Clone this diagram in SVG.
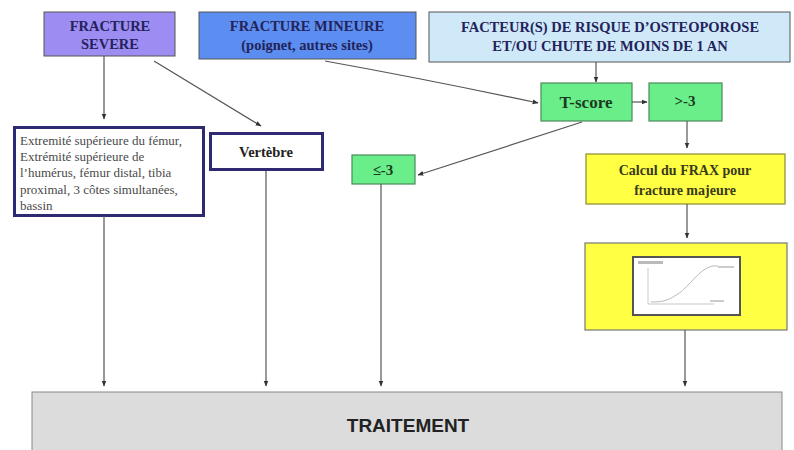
<svg xmlns="http://www.w3.org/2000/svg" width="794" height="450" viewBox="0 0 794 450">
<style>
.hd{font-family:'Liberation Serif','Times New Roman','DejaVu Serif',serif;font-weight:bold;font-size:14.5px;fill:#23235a;text-anchor:middle}
.bx{stroke:#555;stroke-width:1}
.grn{fill:#6aee8a;stroke:#4a8a5a;stroke-width:1.2}
.gt{font-family:'Liberation Serif','Times New Roman','DejaVu Serif',serif;font-weight:bold;fill:#1c3a22;text-anchor:middle}
.ln{stroke:#555;stroke-width:1.2;fill:none}
.ex{font-family:'Liberation Serif','Times New Roman','DejaVu Serif',serif;font-size:13px;fill:#4a4a4a}
</style>
<defs>
<marker id="ah" viewBox="0 0 10 10" refX="9" refY="5" markerWidth="5" markerHeight="5" orient="auto">
<path d="M0,1 L10,5 L0,9 z" fill="#333"/>
</marker>
</defs>
<rect width="794" height="450" fill="#fff"/>

<g id="fracture-severe">
<rect x="44" y="12" width="131" height="44" fill="#9d8cf2" class="bx"/>
<text class="hd" x="110" y="31">FRACTURE</text>
<text class="hd" x="110" y="49">SEVERE</text>
</g>
<g id="fracture-mineure">
<rect x="199" y="12" width="217" height="47" fill="#5b8ef0" class="bx"/>
<text class="hd" x="307" y="31">FRACTURE MINEURE</text>
<text class="hd" x="307" y="50" font-size="13.5">(poignet, autres sites)</text>
</g>
<g id="facteurs">
<rect x="429" y="12" width="361" height="50" fill="#cfe9f9" class="bx"/>
<text class="hd" x="610" y="32">FACTEUR(S) DE RISQUE D’OSTEOPOROSE</text>
<text class="hd" x="610" y="51">ET/OU CHUTE DE MOINS DE 1 AN</text>
</g>
<g id="tscore">
<rect x="541" y="83" width="91" height="38" class="grn"/>
<text class="gt" x="586" y="108" font-size="17">T-score</text>
</g>
<g id="sup3">
<rect x="649" y="83" width="73" height="38" class="grn"/>
<text class="gt" x="685" y="106" font-size="15">&gt;-3</text>
</g>
<g id="inf3">
<rect x="352" y="155" width="63" height="29" class="grn"/>
<text class="gt" x="383" y="175" font-size="15">≤-3</text>
</g>
<g id="extremite">
<rect x="14.5" y="127.5" width="189" height="88" fill="#fff" stroke="#2d2a72" stroke-width="3"/>
<text class="ex" x="20" y="145">Extremité supérieure du fémur,</text>
<text class="ex" x="20" y="161">Extrémité supérieure de</text>
<text class="ex" x="20" y="177">l’humérus, fémur distal, tibia</text>
<text class="ex" x="20" y="194">proximal, 3 côtes simultanées,</text>
<text class="ex" x="20" y="210">bassin</text>
</g>
<g id="vertebre">
<rect x="210.5" y="133.5" width="112" height="36" fill="#fff" stroke="#2d2a72" stroke-width="3"/>
<text class="hd" x="266" y="157" font-size="15" style="fill:#222">Vertèbre</text>
</g>
<g id="frax">
<rect x="586" y="154" width="199" height="50" fill="#ffff44" stroke="#8a8a30" stroke-width="1.2"/>
<text class="hd" x="685" y="175" style="fill:#3a3a1a;font-size:14px">Calcul du FRAX pour</text>
<text class="hd" x="685" y="195" style="fill:#3a3a1a;font-size:14px">fracture majeure</text>
</g>
<g id="frax-chart">
<rect x="585" y="243" width="202" height="87" fill="#ffff44" stroke="#777" stroke-width="1.2"/>
<rect x="633" y="257" width="107" height="58" fill="#fff" stroke="#555" stroke-width="2"/>
<rect x="638" y="261" width="25" height="3" fill="#bbb"/>
<line x1="648" y1="268" x2="648" y2="304" stroke="#bbb" stroke-width="0.8"/>
<line x1="648" y1="304" x2="714" y2="304" stroke="#bbb" stroke-width="0.8"/>
<path d="M651,302 C665,302 668,300 678,294 C690,286 698,270 712,266 L718,266" fill="none" stroke="#bbb" stroke-width="1"/>
<rect x="718" y="266" width="16" height="2" fill="#ccc"/>
<rect x="710" y="300" width="14" height="2" fill="#ccc"/>
</g>
<g id="traitement">
<rect x="32" y="392" width="750" height="60" fill="#dcdcdc" stroke="#888" stroke-width="1"/>
<text x="408" y="432" font-family="Liberation Sans, Arial, sans-serif" font-weight="bold" font-size="19" fill="#222" text-anchor="middle">TRAITEMENT</text>
</g>

<g id="connectors">
<line class="ln" x1="104" y1="56" x2="104" y2="119" marker-end="url(#ah)"/>
<line class="ln" x1="154" y1="61" x2="261" y2="126" marker-end="url(#ah)"/>
<path class="ln" d="M325,61 Q430,80 538,103" marker-end="url(#ah)"/>
<line class="ln" x1="596" y1="62" x2="596" y2="82" marker-end="url(#ah)"/>
<line class="ln" x1="632" y1="102" x2="647" y2="102" marker-end="url(#ah)"/>
<line class="ln" x1="582" y1="122" x2="418" y2="175" marker-end="url(#ah)"/>
<line class="ln" x1="687" y1="121" x2="687" y2="148" marker-end="url(#ah)"/>
<line class="ln" x1="687" y1="204" x2="687" y2="238" marker-end="url(#ah)"/>
<line class="ln" x1="685" y1="330" x2="685" y2="386" marker-end="url(#ah)"/>
<line class="ln" x1="104" y1="216" x2="104" y2="386" marker-end="url(#ah)"/>
<line class="ln" x1="266" y1="171" x2="266" y2="386" marker-end="url(#ah)"/>
<line class="ln" x1="381" y1="184" x2="381" y2="386" marker-end="url(#ah)"/>
</g>
</svg>
